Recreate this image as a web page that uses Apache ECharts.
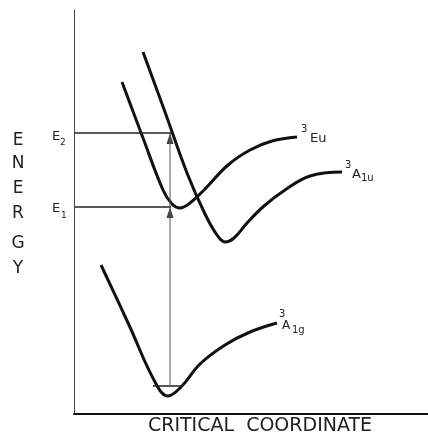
<!DOCTYPE html>
<html style="height: 100%; width:100%">
<head>
    <meta charset="utf-8">
    <script src="https://cdn.jsdelivr.net/npm/echarts@6/dist/echarts.min.js"></script>
</head>
<body style="height: 100%; width: 100%; margin: 0; background:#fff">
<div id="container" style="height: 446px;width:428px"></div>
<script type="text/javascript">
// potential energy curves, units (x: coordinate, y: energy)
var groundA1g = [[27,149],[55,89],[81,32],[94,18],[107,27],[126,50],[151,69],[176,82],[203,91]];
var excitedEu = [[48,332],[69,276],[89,224],[98,210],[106,206],[116,211],[131,225],[154,249],[176,264],[198,273],[223,277]];
var excitedA1u = [[69,362],[91,302],[113,241],[131,200],[143,179],[151,172],[160,176],[173,191],[190,208],[211,224],[236,238],[268,242]];
var levelE2 = [[1,281],[97,281]];
var levelE1 = [[1,207],[97,207]];
var zeroPoint = [[79,28],[109,28]];
var transition = [[96,28],[96,281]];
var arrowTips = [[96,281],[96,207]];
var yLetters = ['E','N','E','R','G','Y'];
var yLetterTops = [132,155,180,205,235,260];

var dom = document.getElementById("container");
var myChart = echarts.init(dom);

function txt(x, y, s, size, align) {
    return {
        type: 'text', x: x, y: y,
        style: { text: s, font: size + 'px "DejaVu Sans"', fill: '#222', verticalAlign: 'top', align: align || 'left' }
    };
}

function curve(data, w, c, sm) {
    return {
        type: 'line', data: data, smooth: sm || 0, showSymbol: false, symbol: 'none',
        lineStyle: { color: c || '#111', width: w }, silent: true
    };
}

var graphics = [];
for (var i = 0; i < yLetters.length; i++) {
    graphics.push(txt(18, yLetterTops[i], yLetters[i], 17, 'center'));
}
graphics.push(txt(52, 130, 'E', 13));
graphics.push(txt(60, 138, '2', 9));
graphics.push(txt(52, 202, 'E', 13));
graphics.push(txt(61, 211, '1', 9));
graphics.push(txt(301, 124, '3', 10));
graphics.push(txt(310, 132, 'Eu', 13));
graphics.push(txt(345, 160, '3', 10));
graphics.push(txt(352, 168, 'A', 13));
graphics.push(txt(361, 173, '1u', 10));
graphics.push(txt(279, 309, '3', 10));
graphics.push(txt(282, 320, 'A', 12));
graphics.push(txt(292, 325, '1g', 10));
graphics.push(txt(260, 417, 'CRITICAL  COORDINATE', 19, 'center'));

var option = {
    animation: false,
    grid: { left: 74, right: 0, top: 10, bottom: 32 },
    xAxis: {
        type: 'value', min: 0, max: 354,
        axisLine: { show: true, lineStyle: { color: '#111', width: 2 } },
        axisTick: { show: false }, axisLabel: { show: false }, splitLine: { show: false }
    },
    yAxis: {
        type: 'value', min: 0, max: 404,
        axisLine: { show: true, lineStyle: { color: '#444', width: 1 } },
        axisTick: { show: false }, axisLabel: { show: false }, splitLine: { show: false }
    },
    series: [
        curve(groundA1g, 3, '#111', 0.4),
        curve(excitedEu, 3, '#111', 0.4),
        curve(excitedA1u, 3, '#111', 0.4),
        curve(levelE2, 1.5, '#222'),
        curve(levelE1, 1.5, '#222'),
        curve(zeroPoint, 1.5, '#222'),
        curve(transition, 1, '#555'),
        {
            type: 'scatter', data: arrowTips, symbol: 'triangle',
            symbolSize: [7, 11], symbolOffset: [0, '50%'],
            itemStyle: { color: '#111' }, silent: true
        }
    ],
    graphic: graphics
};
myChart.setOption(option);
</script>
</body>
</html>
